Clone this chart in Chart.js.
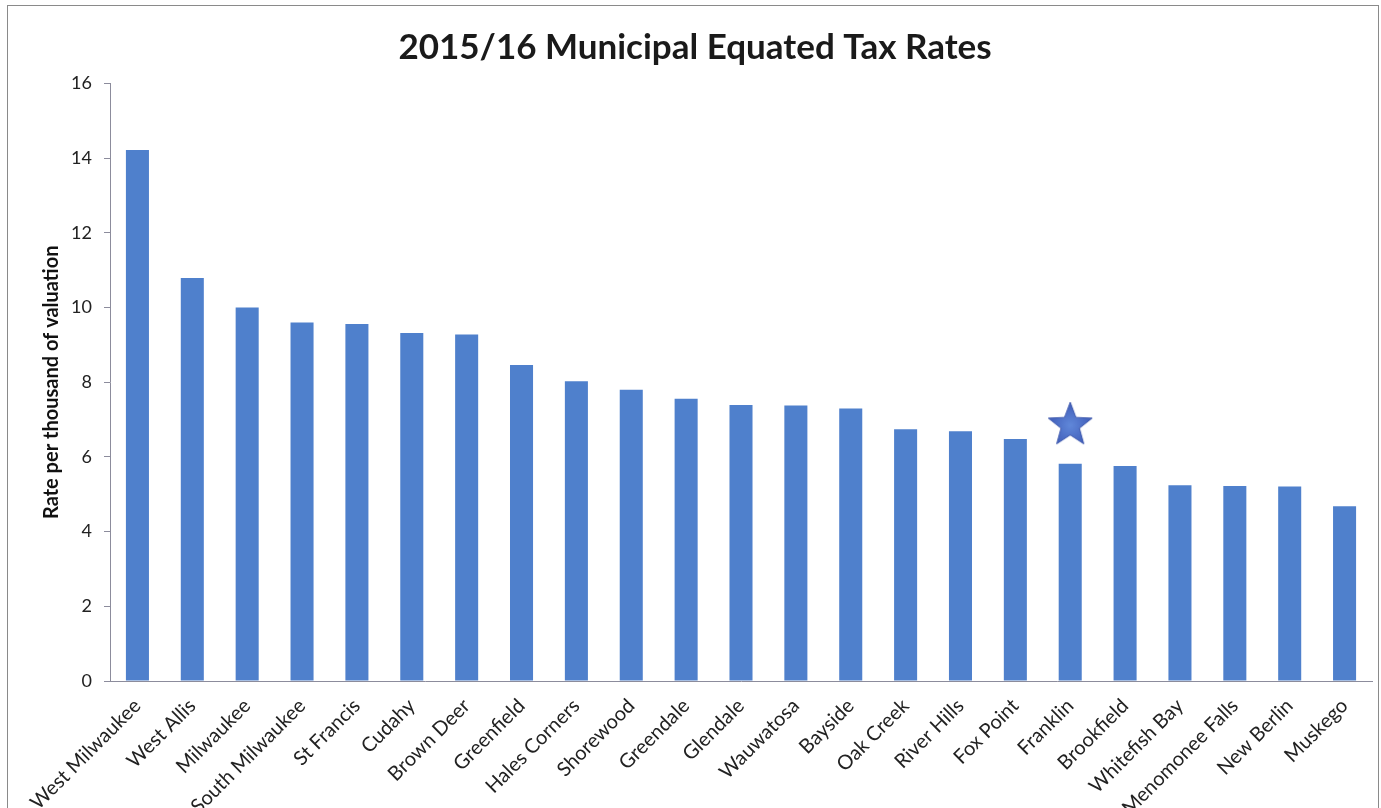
<!DOCTYPE html>
<html><head><meta charset="utf-8">
<script src="https://cdn.jsdelivr.net/npm/chart.js@4.4.1/dist/chart.umd.min.js"></script>
<style>
html,body{margin:0;padding:0;background:#fff;overflow:hidden;}
#wrap{position:relative;width:1381px;height:808px;overflow:hidden;}
#frame{position:absolute;left:7px;top:5px;width:1370px;height:900px;border:1px solid #8a8a8a;pointer-events:none;}
canvas{position:absolute;left:0;top:0;}
</style></head><body>
<div id="wrap"><canvas id="c" width="1381" height="808"></canvas><div id="frame"></div></div>
<script>
const chartTitle = '2015/16 Municipal Equated Tax Rates';
const yAxisTitle = 'Rate per thousand of valuation';
const categories = ['West Milwaukee','West Allis','Milwaukee','South Milwaukee','St Francis','Cudahy','Brown Deer','Greenfield','Hales Corners','Shorewood','Greendale','Glendale','Wauwatosa','Bayside','Oak Creek','River Hills','Fox Point','Franklin','Brookfield','Whitefish Bay','Menomonee Falls','New Berlin','Muskego'];
const rates = [14.22, 10.79, 10.00, 9.60, 9.56, 9.32, 9.28, 8.46, 8.03, 7.80, 7.56, 7.39, 7.38, 7.30, 6.74, 6.69, 6.48, 5.82, 5.76, 5.24, 5.22, 5.21, 4.68];
const yTicks = [0, 2, 4, 6, 8, 10, 12, 14, 16];
const starCategory = 'Franklin';
const starValue = 6.85;

const starData = categories.map(c => c === starCategory ? starValue : null);

function makeStar(R) {
  const s = Math.ceil(R * 2 + 4);
  const cv = document.createElement('canvas');
  cv.width = s; cv.height = s;
  const g = cv.getContext('2d');
  const cx = s / 2, cy = s / 2;
  const r = R * 0.42;
  g.beginPath();
  for (let i = 0; i < 10; i++) {
    const a = -Math.PI / 2 + i * Math.PI / 5;
    const rr = i % 2 === 0 ? R : r;
    const px = cx + rr * Math.cos(a), py = cy + rr * Math.sin(a);
    if (i === 0) g.moveTo(px, py); else g.lineTo(px, py);
  }
  g.closePath();
  const grad = g.createRadialGradient(cx, cy, 1, cx, cy, R);
  grad.addColorStop(0, '#5f86d8');
  grad.addColorStop(1, '#3f5cb8');
  g.fillStyle = grad;
  g.fill();
  g.strokeStyle = '#3b56ac';
  g.lineWidth = 1;
  g.stroke();
  return cv;
}

const FONT = "Lato, 'Open Sans', sans-serif";

new Chart(document.getElementById('c'), {
  data: {
    labels: categories,
    datasets: [
      {
        type: 'line',
        data: starData,
        showLine: false,
        pointStyle: makeStar(23),
        pointRadius: 23,
        pointHoverRadius: 23,
        order: 0
      },
      {
        type: 'bar',
        data: rates,
        backgroundColor: '#4f80cc',
        borderWidth: 0,
        categoryPercentage: 1,
        barPercentage: 0.42,
        order: 1
      }
    ]
  },
  options: {
    responsive: false,
    animation: false,
    events: [],
    layout: { autoPadding: false, padding: { left: 18, right: 9, top: 0, bottom: 0 } },
    plugins: {
      legend: { display: false },
      tooltip: { enabled: false },
      title: {
        display: true,
        text: chartTitle,
        color: '#1a1a1a',
        font: { family: FONT, size: 35, weight: 'bold', lineHeight: 1.2 },
        padding: { top: 27, bottom: 14.5 }
      }
    },
    scales: {
      x: {
        grid: { display: false },
        border: { display: true, color: '#8c8c9c', width: 1 },
        ticks: {
          color: '#222',
          font: { family: FONT, size: 20 },
          maxRotation: 45,
          minRotation: 45,
          autoSkip: false,
          padding: 5
        },
        afterFit: s => { s.height = 127; s.paddingLeft = 0; s.paddingRight = 0; }
      },
      y: {
        min: 0,
        max: 16,
        afterBuildTicks: s => { s.ticks = yTicks.map(v => ({ value: v })); },
        grid: { drawOnChartArea: false, drawTicks: true, tickLength: 6, color: '#8c8c9c' },
        border: { display: true, color: '#8c8c9c', width: 1 },
        ticks: {
          color: '#222',
          font: { family: FONT, size: 18 },
          padding: 12
        },
        title: {
          display: true,
          text: yAxisTitle,
          color: '#111',
          font: { family: FONT, size: 20, weight: 'bold', lineHeight: 1.2 },
          padding: { top: 22, bottom: 0 }
        },
        afterFit: s => { s.width = 92; }
      }
    }
  }
});
</script>
</body></html>
